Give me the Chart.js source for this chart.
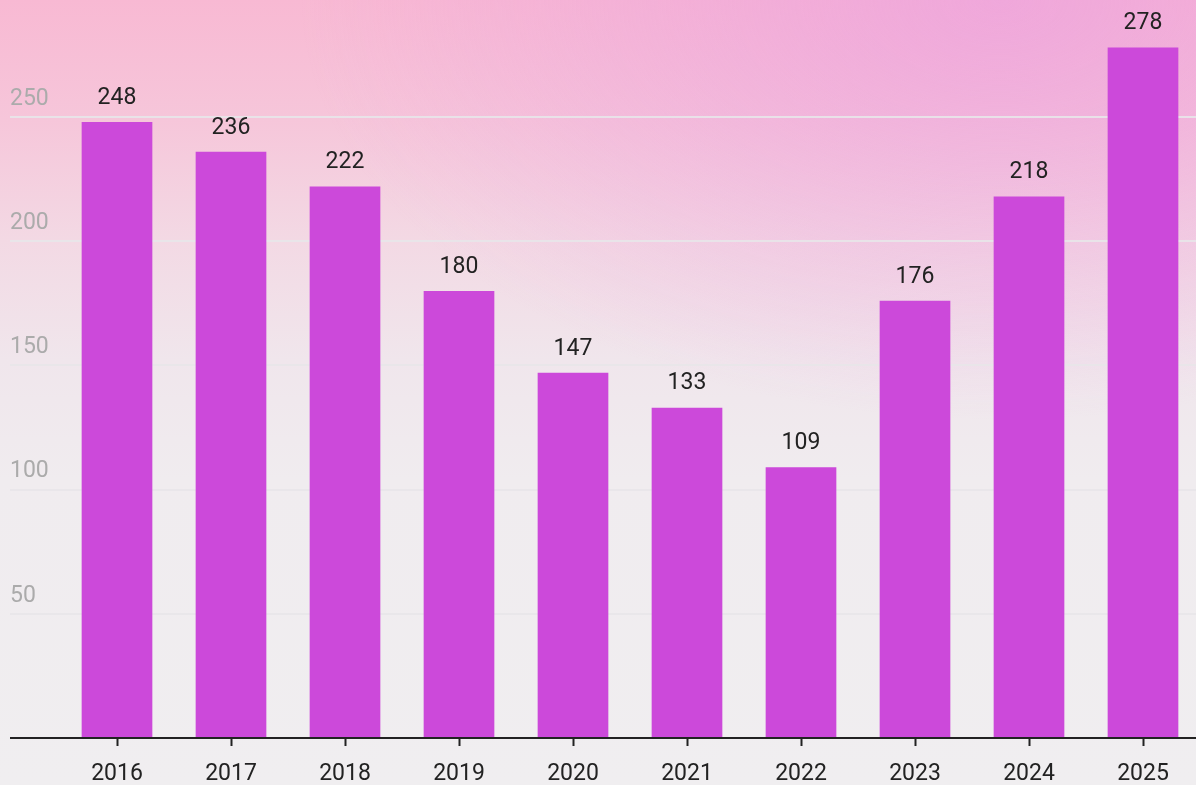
<!DOCTYPE html>
<html>
<head>
<meta charset="utf-8">
<script src="https://cdn.jsdelivr.net/npm/chart.js@4.4.1/dist/chart.umd.min.js"></script>
<style>
  html, body { margin: 0; padding: 0; width: 1196px; height: 785px; overflow: hidden; }
  body {
    background:
      radial-gradient(ellipse 700px 420px at 1000px 0px, rgba(236,160,222,0.7), rgba(236,160,222,0) 100%),
      linear-gradient(to bottom, #f8b9d3 0px, #f6c6da 120px, #f3d9e4 240px, #f0e6ec 360px, #f0ecef 480px, #f0eef0 785px);
  }
  #wrap { position: absolute; left: 0; top: -24px; width: 1200px; height: 809px; }
</style>
</head>
<body>
<div id="wrap"><canvas id="barChart"></canvas></div>

<script>
  // data
  var years = ["2016", "2017", "2018", "2019", "2020", "2021", "2022", "2023", "2024", "2025"];
  var values = [248, 236, 222, 180, 147, 133, 109, 176, 218, 278];

  // numbers over the bars
  var valueLabels = {
    id: "valueLabels",
    afterDatasetsDraw(chart) {
      var ctx = chart.ctx;
      var meta = chart.getDatasetMeta(0);
      ctx.save();
      ctx.font = "23px Roboto";
      ctx.fillStyle = "#222222";
      ctx.textAlign = "center";
      ctx.textBaseline = "middle";
      meta.data.forEach(function (bar, i) {
        ctx.fillText(values[i], bar.x, bar.y - 24);
      });
      ctx.restore();
    }
  };

  var btx = document.getElementById("barChart").getContext("2d");
  let barChart = new Chart(btx, {
    type: "bar",
    data: {
      labels: years,
      datasets: [{
        data: values,
        backgroundColor: "#cc49da",
        borderWidth: 0,
        categoryPercentage: 1,
        barPercentage: 0.62
      }]
    },
    options: {
      responsive: true,
      maintainAspectRatio: false,
      animation: false,
      layout: { padding: { left: 10, right: 0, top: 0, bottom: 0 } },
      plugins: { legend: { display: false }, tooltip: { enabled: false } },
      scales: {
        x: {
          border: { display: false },
          grid: {
            offset: false,
            drawOnChartArea: false,
            tickLength: 8,
            tickWidth: 2,
            tickColor: "#222222"
          },
          ticks: {
            color: "#222222",
            font: { family: "Roboto", size: 23 },
            padding: 14,
            maxRotation: 0
          },
          afterFit(scale) { scale.height = 47; }
        },
        y: {
          min: 0,
          max: 300,
          border: { display: false },
          grid: {
            tickLength: 50,
            lineWidth: 2,
            color: function (c) { return c.tick && c.tick.value === 0 ? "#222222" : "rgba(232,229,233,0.9)"; }
          },
          ticks: {
            stepSize: 50,
            crossAlign: "far",
            labelOffset: -18,
            color: "#ababab",
            font: { family: "Roboto", size: 23 },
            callback: function (v) { return v === 0 ? "" : v; }
          },
          afterFit(scale) { scale.width = 50; }
        }
      }
    },
    plugins: [valueLabels]
  });
</script>
</body>
</html>
